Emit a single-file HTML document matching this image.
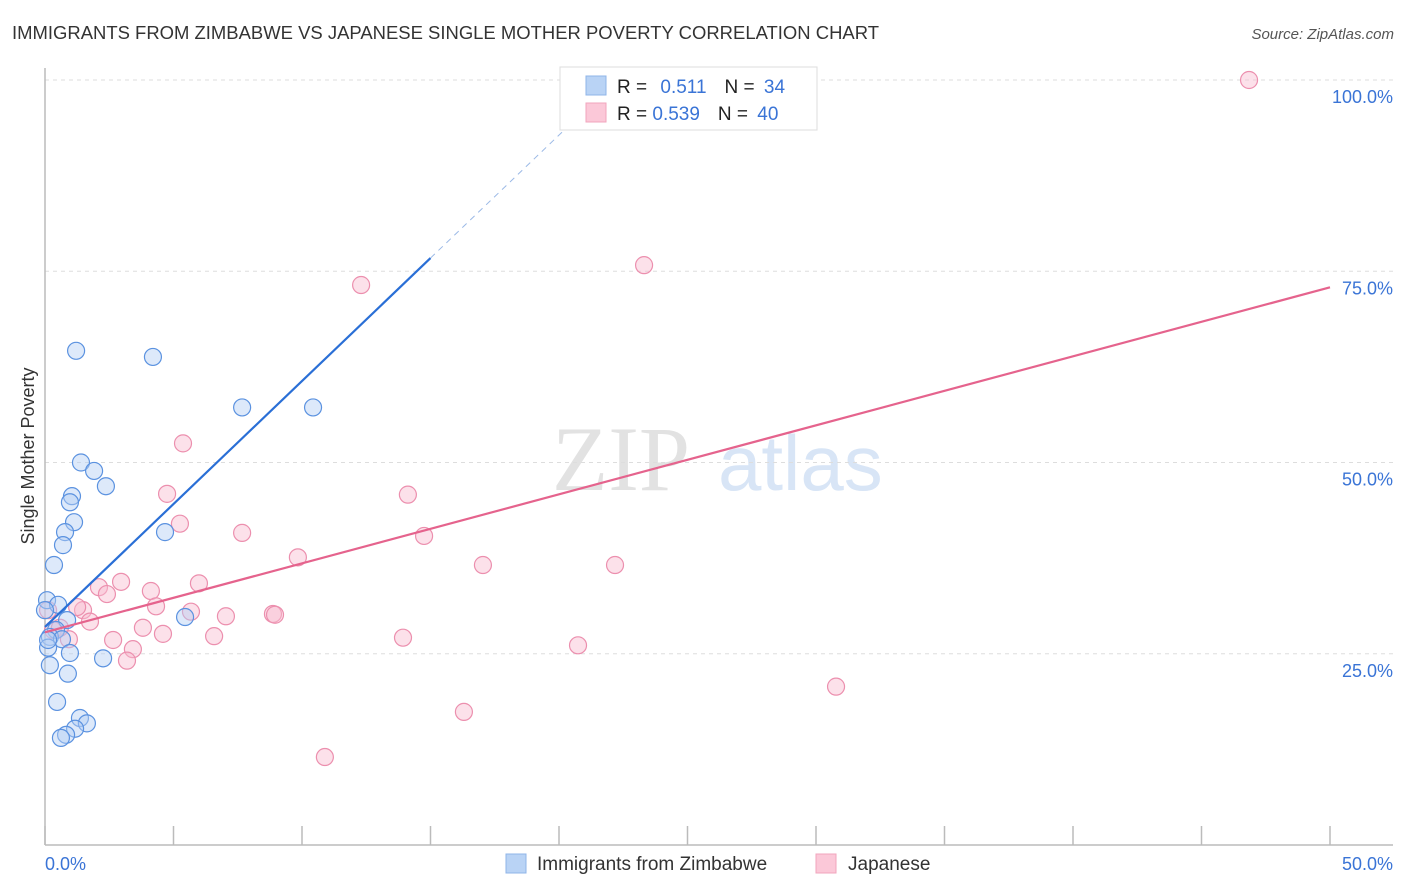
<!DOCTYPE html>
<html><head><meta charset="utf-8"><style>
body{margin:0;background:#fff;font-family:"Liberation Sans",sans-serif}
svg{display:block}
</style></head><body>
<svg id="chart" width="1406" height="892">
<text x="12" y="39" font-size="18" fill="#333" textLength="867" lengthAdjust="spacingAndGlyphs">IMMIGRANTS FROM ZIMBABWE VS JAPANESE SINGLE MOTHER POVERTY CORRELATION CHART</text>
<text x="1394" y="39" font-size="15" fill="#555" text-anchor="end" font-style="italic">Source: ZipAtlas.com</text>
<text x="690" y="490" font-size="92" fill="#e2e2e2" text-anchor="end" font-family="Liberation Serif">ZIP</text>
<text x="718" y="490" font-size="78" fill="#d8e5f6">atlas</text>
<g id="grid"></g>
<g id="axes"></g>
<g id="marks"></g>
<text transform="translate(34,456) rotate(-90)" font-size="18" fill="#333" text-anchor="middle">Single Mother Poverty</text>
<g>
<rect x="560" y="67" width="257" height="63" fill="#fff" stroke="#ddd"/>
<rect x="586" y="76" width="20" height="19" fill="#b9d3f5" stroke="#8fb4e8"/>
<rect x="586" y="103" width="20" height="19" fill="#fbc8d8" stroke="#f2a5bd"/>
<text x="617" y="93" font-size="19" fill="#222">R = <tspan fill="#3a74d6" dx="8">0.511</tspan><tspan dx="18" fill="#222">N = </tspan><tspan fill="#3a74d6" dx="4">34</tspan></text>
<text x="617" y="120" font-size="19" fill="#222">R = <tspan fill="#3a74d6">0.539</tspan><tspan dx="18" fill="#222">N = </tspan><tspan fill="#3a74d6" dx="4">40</tspan></text>
</g>
<g>
<rect x="506" y="854" width="20" height="19" fill="#b9d3f5" stroke="#8fb4e8"/>
<text x="537" y="870" font-size="19" fill="#333">Immigrants from Zimbabwe</text>
<rect x="816" y="854" width="20" height="19" fill="#fbc8d8" stroke="#f2a5bd"/>
<text x="848" y="870" font-size="19" fill="#333">Japanese</text>
</g>
</svg>
<script>
const blueX=[1.21,4.20,7.67,10.43,1.40,1.91,2.37,1.05,0.97,1.13,0.78,0.70,4.67,0.35,0.08,0.51,0,5.45,0.86,0.43,0.19,0.66,0.12,0.97,2.26,0.19,0.89,0.47,1.36,1.63,1.17,0.82,0.62,0.12];
const blueY=[64.6,63.8,57.2,57.2,50.0,48.9,46.9,45.6,44.8,42.2,40.9,39.2,40.9,36.6,32.0,31.4,30.7,29.8,29.4,28.1,27.2,26.9,25.8,25.1,24.4,23.5,22.4,18.7,16.6,15.9,15.2,14.4,14.0,26.8];
const pinkX=[46.85,23.31,12.30,5.37,4.75,14.12,5.25,7.67,14.75,9.84,17.04,22.18,2.96,5.99,4.12,2.10,2.41,4.32,5.68,1.48,1.25,8.87,8.95,7.04,3.81,1.75,4.59,6.58,2.65,0.93,13.93,20.74,3.42,3.19,30.78,16.30,10.89,0.31,0.58,0.12];
const pinkY=[100,75.8,73.2,52.5,45.9,45.8,42.0,40.8,40.4,37.6,36.6,36.6,34.4,34.2,33.2,33.7,32.8,31.2,30.5,30.7,31.1,30.2,30.1,29.9,28.4,29.2,27.6,27.3,26.8,26.9,27.1,26.1,25.6,24.1,20.7,17.4,11.5,28.1,28.4,30.7];
const blueTrend=[28.5,3.215]; // intercept, slope
const pinkTrend=[27.8,0.902];
const yTicks=[25,50,75,100];
const yTickLabels=["25.0%","50.0%","75.0%","100.0%"];
const xTicks=[0,5,10,15,20,25,30,35,40,45,50];
const NS="http://www.w3.org/2000/svg";
const sx=v=>45+v*25.7, sy=v=>845-v*7.65;
function mk(t,a,p){const e=document.createElementNS(NS,t);for(const k in a)e.setAttribute(k,a[k]);p.appendChild(e);return e;}
const grid=document.getElementById('grid'),axes=document.getElementById('axes'),marks=document.getElementById('marks');
yTicks.forEach((v,i)=>{
 const l=mk('line',{x1:45,x2:1393,y1:sy(v),y2:sy(v),stroke:'#ddd','stroke-dasharray':'4,4'},grid);
 
 
 const t=mk('text',{x:1393,y:sy(v)+23,'font-size':18,fill:'#3a74d6','text-anchor':'end'},axes);
 t.textContent=yTickLabels[i];
 
 
});
mk('line',{x1:45,x2:45,y1:68,y2:845,stroke:'#bbb','stroke-width':1.5},axes);
mk('line',{x1:45,x2:1393,y1:845,y2:845,stroke:'#bbb','stroke-width':1.5},axes);
xTicks.forEach(v=>{const t=mk('line',{x1:sx(v),x2:sx(v),y1:826,y2:845,stroke:'#bbb','stroke-width':1.5},axes);
 
 });
const xl=mk('text',{x:45,y:870,'font-size':18,fill:'#3a74d6'},axes);xl.textContent='0.0%';


const xr=mk('text',{x:1393,y:870,'font-size':18,fill:'#3a74d6','text-anchor':'end'},axes);xr.textContent='50.0%';


function dots(X,Y,fill,stroke,name){X.forEach((x,i)=>{const c=mk('circle',{cx:sx(x),cy:sy(Y[i]),r:8.5,fill:fill,'fill-opacity':0.45,stroke:stroke,'stroke-width':1.2},marks);
 
 });}
dots(pinkX,pinkY,'#f8bcd0','#ec8fae','japanese-point');
dots(blueX,blueY,'#b3cff3','#5b92e0','zimbabwe-point');
let bl=mk('line',{x1:sx(0),y1:sy(blueTrend[0]),x2:sx(15),y2:sy(blueTrend[0]+15*blueTrend[1]),stroke:'#2a6fd6','stroke-width':2.2},marks);


let bd=mk('line',{x1:sx(15),y1:sy(blueTrend[0]+15*blueTrend[1]),x2:sx(21.5),y2:sy(blueTrend[0]+21.5*blueTrend[1]),stroke:'#9bb9e6','stroke-width':1,'stroke-dasharray':'6,5'},marks);


let pl=mk('line',{x1:sx(0),y1:sy(pinkTrend[0]),x2:sx(50),y2:sy(pinkTrend[0]+50*pinkTrend[1]),stroke:'#e5638d','stroke-width':2.2},marks);


</script>
</body></html>
